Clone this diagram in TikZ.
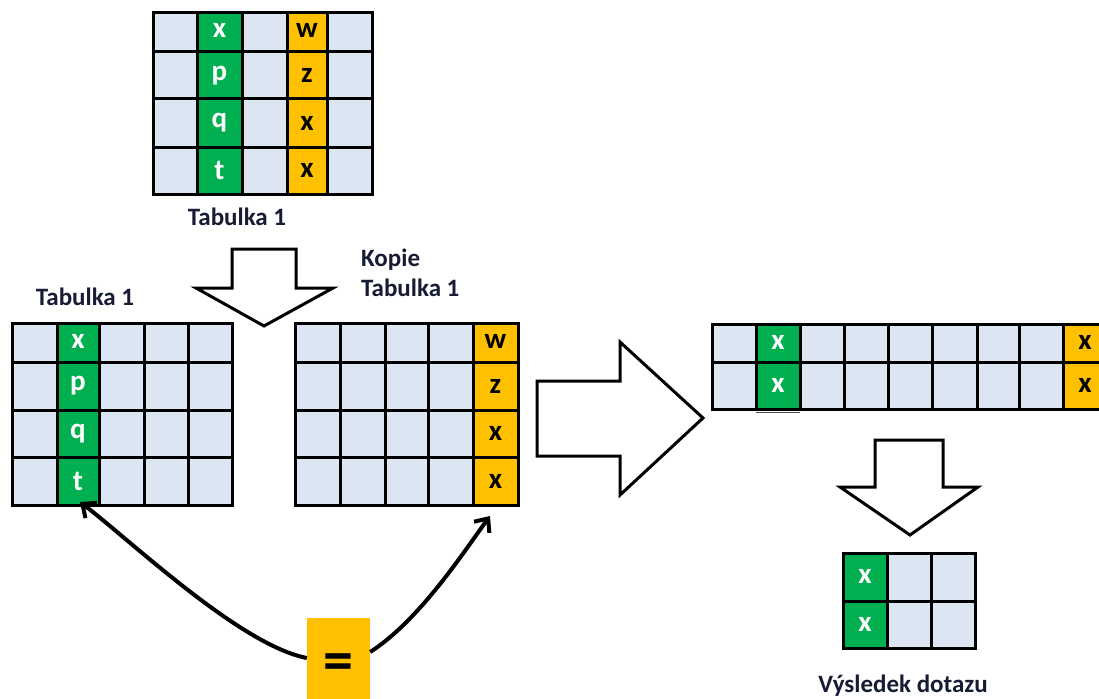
\documentclass[tikz,border=0pt]{standalone}
\usepackage{fontspec}
\setmainfont{Carlito}
\usetikzlibrary{arrows.meta}
\definecolor{cellblue}{RGB}{220,230,242}
\definecolor{cgreen}{RGB}{0,176,80}
\definecolor{corange}{RGB}{255,192,0}
\definecolor{lblcol}{RGB}{22,28,52}
\tikzset{
  gridline/.style={line width=3pt, black},
  gl/.style={font=\fontsize{29}{30}\selectfont\bfseries, text=white, inner sep=0pt},
  ol/.style={font=\fontsize{29}{30}\selectfont\bfseries, text=black, inner sep=0pt},
  lbl/.style={font=\fontsize{25}{30}\selectfont\bfseries, text=lblcol, inner sep=0pt},
  bigarrow/.style={draw=black, line width=3pt, fill=white, line join=miter},
  conn/.style={line width=4pt, -{Straight Barb[length=11pt,width=19pt,line width=4pt]}},
}
\begin{document}
\begin{tikzpicture}[x=1pt,y=-1pt]
\useasboundingbox (0,0) rectangle (1099,698);
\fill[white] (0,0) rectangle (1099,698);

% ---------- top table ----------
\fill[cellblue] (153,13) rectangle (372,194);
\fill[cgreen] (197,13) rectangle (242,194);
\fill[corange] (287,13) rectangle (327,194);
\foreach \x in {197,242,287,327} \draw[gridline] (\x,13) -- (\x,194);
\foreach \y in {52,99,147} \draw[gridline] (153,\y) -- (372,\y);
\draw[gridline] (153,13) rectangle (372,194);
\node[gl] (ta1) at (219.5,30.5) {x};
\node[gl] (ta2) at (219.5,75.5) {p};
\node[gl] (ta3) at (219.5,123) {q};
\node[gl] (ta4) at (219.5,170.5) {t};
\node[ol] (tb1) at (307,30.5) {w};
\node[ol] (tb2) at (307,75.5) {z};
\node[ol] (tb3) at (307,123) {x};
\node[ol] (tb4) at (307,170.5) {x};
\node[lbl] (toplbl) at (237,217) {Tabulka 1};

% ---------- down arrow (top) ----------
\draw[bigarrow] (232,249) -- (296,249) -- (296,288) -- (333,288) -- (264,326) -- (196,288) -- (232,288) -- cycle;

% ---------- left table ----------
\node[lbl] (leftlbl) at (85,297) {Tabulka 1};
\fill[cellblue] (12,323) rectangle (232,505);
\fill[cgreen] (57,323) rectangle (99,505);
\foreach \x in {57,99,144,188} \draw[gridline] (\x,323) -- (\x,505);
\foreach \y in {362,410,457} \draw[gridline] (12,\y) -- (232,\y);
\draw[gridline] (12,323) rectangle (232,505);
\node[gl] (la1) at (78,341) {x};
\node[gl] (la2) at (78,386) {p};
\node[gl] (la3) at (78,433.5) {q};
\node[gl] (lt) at (78,481) {t};
\coordinate (ltend) at (80,502);

% ---------- middle table ----------
\node[lbl, align=left, anchor=west] (midlbl) at (361,273) {Kopie\\Tabulka 1};
\fill[cellblue] (295,323) rectangle (518,505);
\fill[corange] (473,323) rectangle (518,505);
\foreach \x in {340,385,428,473} \draw[gridline] (\x,323) -- (\x,505);
\foreach \y in {362,410,457} \draw[gridline] (295,\y) -- (518,\y);
\draw[gridline] (295,323) rectangle (518,505);
\node[ol] (mb1) at (495.5,341) {w};
\node[ol] (mb2) at (495.5,386) {z};
\node[ol] (mb3) at (495.5,433.5) {x};
\node[ol] (mx) at (495.5,481) {x};
\coordinate (mxend) at (490,516);

% ---------- right arrow ----------
\draw[bigarrow] (537,381) -- (620,381) -- (620,342) -- (703,418) -- (620,495) -- (620,456) -- (537,456) -- cycle;

% ---------- long result table ----------
\fill[cellblue] (712,324) rectangle (1099,409);
\fill[cgreen] (756,324) rectangle (800,409);
\fill[corange] (1063,324) rectangle (1099,409);
\foreach \x in {756,800,844,888,932,977,1019,1063} \draw[gridline] (\x,324) -- (\x,409);
\draw[gridline] (712,362) -- (1099,362);
\draw[gridline] (1099,324) -- (712,324) -- (712,409) -- (1099,409);
\draw[line width=1pt, black!70] (756,412) -- (800,412);
\node[gl] (ra1) at (778,342) {x};
\node[gl] (ra2) at (778,385.5) {x};
\node[ol] (rb1) at (1085,342) {x};
\node[ol] (rb2) at (1085,385.5) {x};

% ---------- down arrow (bottom) ----------
\draw[bigarrow] (875,440) -- (943,440) -- (943,487) -- (978,487) -- (910,535) -- (840,487) -- (875,487) -- cycle;

% ---------- final table ----------
\fill[cellblue] (843,553) rectangle (975,648);
\fill[cgreen] (843,553) rectangle (887,648);
\foreach \x in {887,931} \draw[gridline] (\x,553) -- (\x,648);
\draw[gridline] (843,601) -- (975,601);
\draw[gridline] (843,553) rectangle (975,648);
\node[gl] (fa1) at (865,576) {x};
\node[gl] (fa2) at (865,624) {x};
\node[lbl] (reslbl) at (903,686) {Výsledek dotazu};

% ---------- equals box and connectors ----------
\node[fill=corange, minimum width=63pt, minimum height=98pt, inner sep=0pt,
      font=\fontsize{60}{60}\selectfont\bfseries] (eq) at (338.5,667) {=};
\draw[conn] (eq.west |- 0,658) .. controls (240,645) and (130,540) .. (ltend);
\draw[conn] (eq.east |- 0,652) .. controls (420,620) and (465,550) .. (mxend);
\end{tikzpicture}
\end{document}
